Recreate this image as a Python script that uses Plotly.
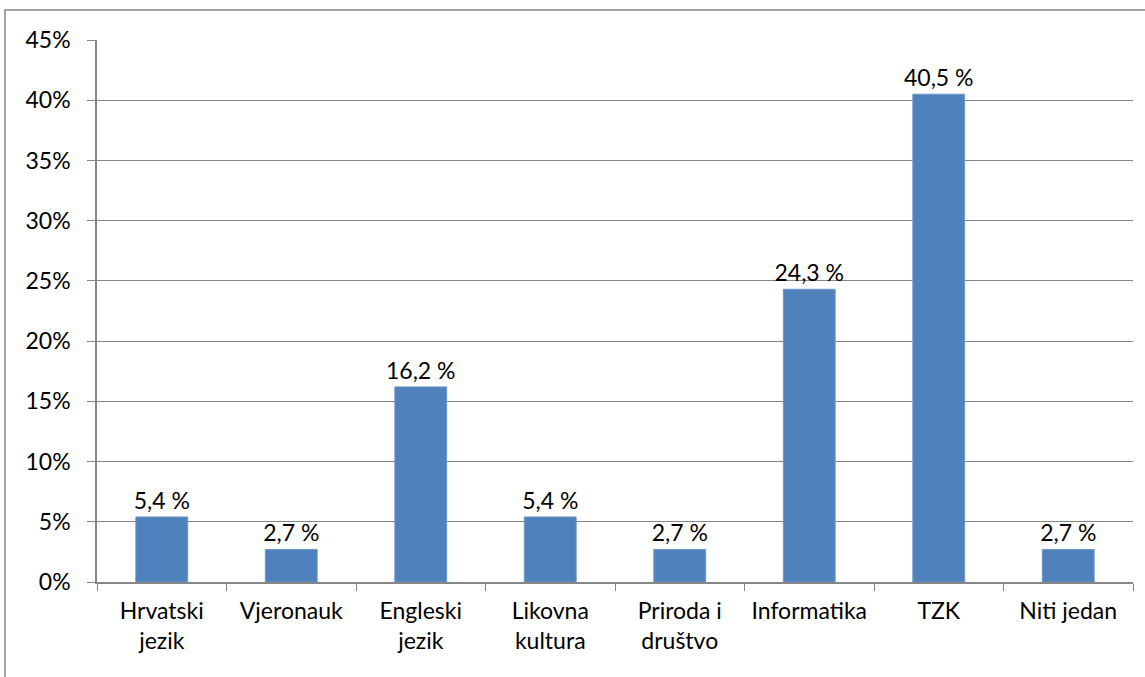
import plotly.graph_objects as go

categories = ["Hrvatski<br>jezik", "Vjeronauk", "Engleski<br>jezik", "Likovna<br>kultura",
              "Priroda i<br>društvo", "Informatika", "TZK", "Niti jedan"]
values = [0.054, 0.027, 0.162, 0.054, 0.027, 0.243, 0.405, 0.027]
labels = ["5,4 %", "2,7 %", "16,2 %", "5,4 %", "2,7 %", "24,3 %", "40,5 %", "2,7 %"]
y_ticks = [0, 0.05, 0.10, 0.15, 0.20, 0.25, 0.30, 0.35, 0.40, 0.45]
y_tick_text = ["0%", "5%", "10%", "15%", "20%", "25%", "30%", "35%", "40%", "45%"]

W, H = 1145, 677
ml, mr, mt, mb = 97, 12, 40, 95
pw, ph = W - ml - mr, H - mt - mb

fig = go.Figure(go.Bar(
    x=categories, y=values, text=labels, textposition="outside",
    textfont=dict(color="black", size=23), cliponaxis=False, constraintext="none",
    marker=dict(color="#4F81BD", line=dict(color="#6A95C9", width=1)),
))

fig.update_layout(
    width=W, height=H, margin=dict(l=ml, r=mr, t=mt, b=mb, autoexpand=False),
    paper_bgcolor="white", plot_bgcolor="white",
    font=dict(family="Lato, Open Sans, sans-serif", size=23, color="black"),
    bargap=0.6, showlegend=False,
    shapes=[dict(type="rect", xref="paper", yref="paper",
                 x0=(5 - ml) / pw, x1=(W + 20 - ml) / pw,
                 y0=-(H + 20 - mt - ph) / ph, y1=1 + (mt - 10) / ph,
                 line=dict(color="#868686", width=1.5), layer="below")],
)
fig.update_yaxes(range=[0, 0.45], tickvals=y_ticks, ticktext=y_tick_text,
                 showgrid=True, gridcolor="#868686", gridwidth=1,
                 showline=True, linecolor="#868686", linewidth=1.5,
                 ticks="outside", ticklen=8, tickcolor="#868686", zeroline=False,
                 automargin=False, tickfont=dict(size=23), ticklabelstandoff=12)
fig.update_xaxes(showline=True, linecolor="#868686", linewidth=1.5,
                 ticks="outside", ticklen=7, tickcolor="#868686",
                 tickson="boundaries", showgrid=False, automargin=False,
                 tickangle=0, tickfont=dict(size=23), ticklabelstandoff=8)

fig.write_html("out.html", config={"displayModeBar": False},
               post_script="document.body.style.margin='0';")
